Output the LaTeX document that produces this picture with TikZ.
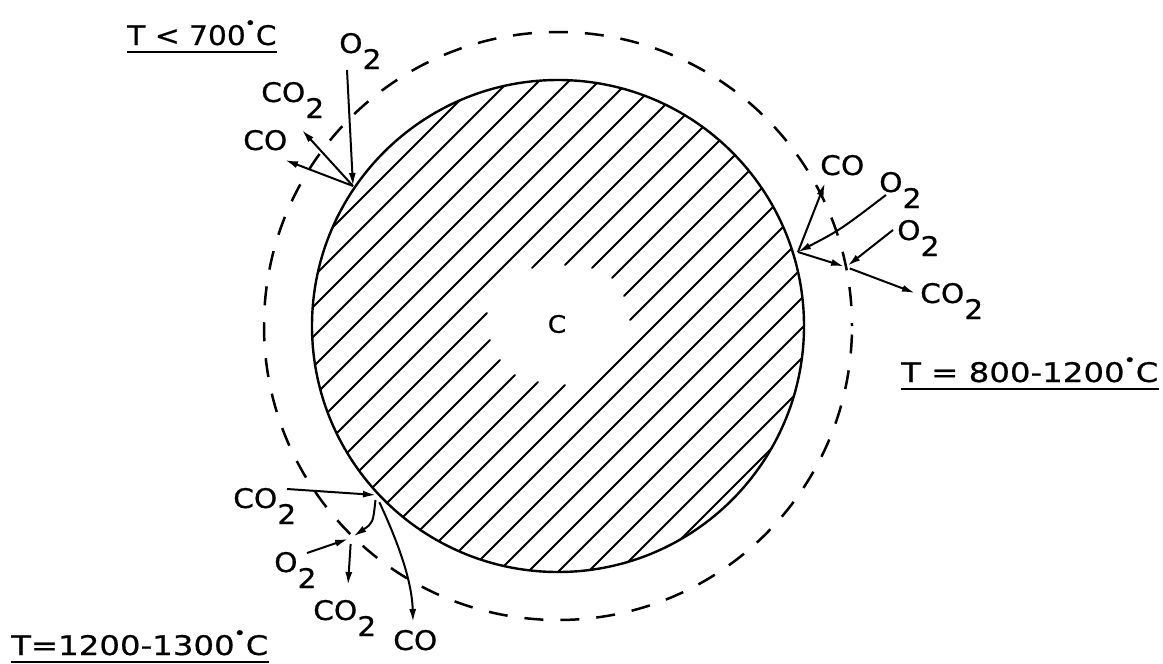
\documentclass[tikz,border=0pt]{standalone}
\usepackage{fontspec}
\usetikzlibrary{arrows.meta}
\newfontfamily\labfont[FakeStretch=1.1,FakeBold=0.6]{DejaVu Sans}
\newfontfamily\labwide[FakeStretch=1.2,FakeBold=0.6]{DejaVu Sans}
\newcommand{\subtwo}{\raisebox{-16pt}{2}}
\newcommand{\degdot}{\kern-1pt\raisebox{16pt}{\fontsize{17}{17}\selectfont\textbullet}\kern0pt}
\tikzset{
  lab/.style={font=\labfont\fontsize{27}{30}\selectfont, inner sep=0pt, anchor=base west},
  labw/.style={lab, font=\labwide\fontsize{27}{30}\selectfont},
  hatch/.style={line width=2pt, line cap=round},
  rim/.style={line width=2.4pt},
  shell/.style={line width=2.5pt, dash pattern=on 19pt off 17pt, dash phase=16pt},
  arr/.style={line width=2pt, -{Latex[length=13pt,width=7pt]}},
  uline/.style={line width=2.6pt}
}
\begin{document}
\begin{tikzpicture}[x=1pt,y=-1pt]
\useasboundingbox (0,0) rectangle (1163,664);
\fill[white] (0,0) rectangle (1163,664);
\coordinate (O) at (558,326);
% hatching
\begin{scope}
\clip (O) circle[radius=246pt];
\foreach \c in {560,590,...,770,980,1010,...,1220}
  \draw[hatch] (200,\c-200) -- (900,\c-900);
\foreach \c/\xl/\xu in {800/487/532,830/490/565,860/500/592,890/515/612,920/538/624,950/565/630}{
  \draw[hatch] (200,\c-200) -- (\xl,\c-\xl);
  \draw[hatch] (\xu,\c-\xu) -- (900,\c-900);
}
\end{scope}
\draw[rim] (O) circle[radius=246pt];
\draw[shell] (O) circle[radius=294pt];
\node[lab, font=\labfont\fontsize{24}{26}\selectfont, anchor=center] (cC) at (557,324) {C};

% labels
\node[lab] (tA) at (127,45) {T < 700\degdot C};
\node[lab] (o2a) at (339,53) {O\subtwo};
\node[lab] (co2a) at (261,102) {CO\subtwo};
\node[lab] (coa) at (243,150) {CO};
\node[lab] (cob) at (820,175) {CO};
\node[lab] (o2b) at (879,192) {O\subtwo};
\node[lab] (o2c) at (897,240) {O\subtwo};
\node[lab] (co2b) at (920,303) {CO\subtwo};
\node[labw] (tB) at (901,382) {T = 800-1200\degdot C};
\node[lab] (co2c) at (233,508) {CO\subtwo};
\node[lab] (o2d) at (274,572) {O\subtwo};
\node[lab] (co2d) at (313,620) {CO\subtwo};
\node[lab] (coc) at (393,650) {CO};
\node[labw] (tC) at (11,655) {T=1200-1300\degdot C};
\foreach \n in {tA,tB,tC}
  \draw[uline] ([yshift=-7pt]\n.base west) -- ([yshift=-7pt]\n.base east);

% reaction points
\coordinate (S1) at (353,186);
\coordinate (S2) at (798,252);
\coordinate (S3) at (376,495);
\coordinate (P2) at (846,267);
\coordinate (P3) at (351,538);
% free arrow ends
\coordinate (a1) at (347,70);
\coordinate (a2) at (302,130);
\coordinate (a3) at (285,160);
\coordinate (a4) at (825,183);
\coordinate (a5) at (886,195);
\coordinate (a7) at (893,230);
\coordinate (a8) at (915,293);
\coordinate (a9) at (287,489);
\coordinate (a11) at (307,553);
\coordinate (a12) at (348,585);
\coordinate (a13) at (413,622);

% upper left, T < 700
\draw[arr] (a1) -- (S1);
\draw[arr] (S1) -- (a2);
\draw[arr] (S1) -- (a3);
% right, T = 800-1200
\draw[arr] (S2) -- (a4);
\draw[arr] (a5) .. controls (840,230) .. (S2);
\draw[arr, shorten >=2pt] (S2) -- (P2);
\draw[arr, shorten >=2pt] (a7) -- (P2);
\draw[arr, shorten <=4pt] (P2) -- (a8);
% lower left, T = 1200-1300
\draw[arr] (a9) -- (S3);
\draw[arr, shorten <=5pt, shorten >=3pt] (S3) .. controls (373,523) .. (P3);
\draw[arr, shorten >=3pt] (a11) -- (P3);
\draw[arr, shorten <=6pt] (P3) -- (a12);
\draw[arr, shorten <=8pt] (S3) .. controls (397,540) and (412,580) .. (a13);
\end{tikzpicture}
\end{document}
